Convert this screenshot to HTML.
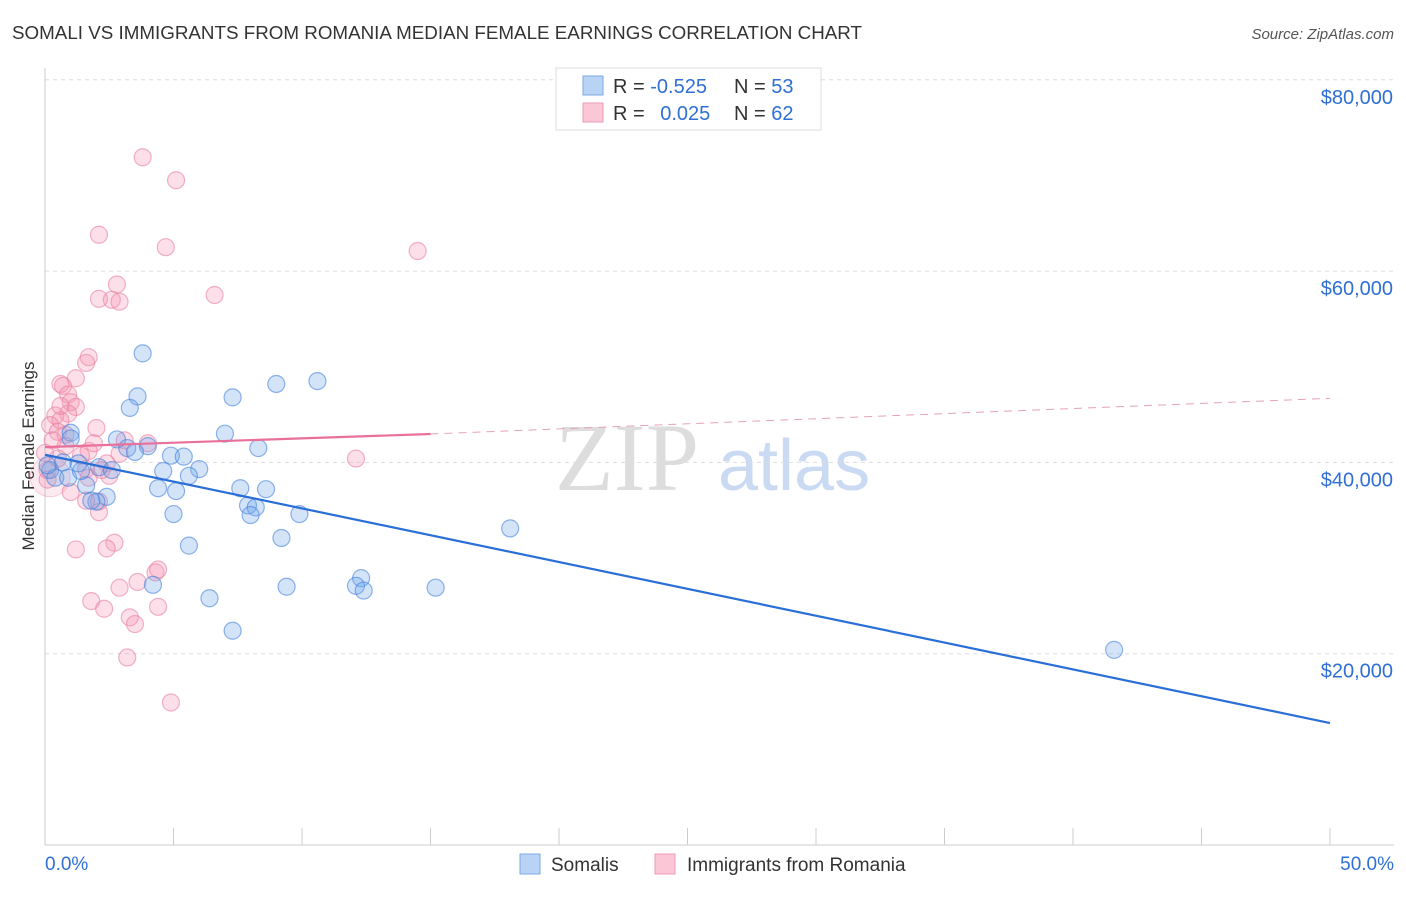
<!DOCTYPE html>
<html><head><meta charset="utf-8"><style>
body{margin:0;background:#fff;font-family:"Liberation Sans",sans-serif;}
</style></head><body>
<svg id="chart" width="1406" height="892" xmlns="http://www.w3.org/2000/svg" style="font-family:'Liberation Sans',sans-serif">
<text x="12" y="39" font-size="18" fill="#333" textLength="850" lengthAdjust="spacingAndGlyphs">SOMALI VS IMMIGRANTS FROM ROMANIA MEDIAN FEMALE EARNINGS CORRELATION CHART</text>
<text x="1394" y="39" font-size="15" fill="#555" text-anchor="end" font-style="italic">Source: ZipAtlas.com</text>
<text x="555" y="490" font-size="96" fill="#ddd" font-family="Liberation Serif">ZIP</text>
<text x="718" y="490" font-size="72" fill="#c9daf2">atlas</text>
<g id="grid"></g>
<g id="axes"></g>
<g id="marks"></g>
<text transform="translate(34,456) rotate(-90)" font-size="17" fill="#333" text-anchor="middle">Median Female Earnings</text>
<g>
<rect x="556" y="68" width="265" height="62" fill="#fff" stroke="#ddd"/>
<rect x="583" y="76" width="20" height="19" fill="#b9d3f5" stroke="#7aa8e6"/>
<rect x="583" y="103" width="20" height="19" fill="#fbc6d6" stroke="#ee9ab4"/>
<text x="613" y="93" font-size="20" fill="#333">R = <tspan fill="#2f6fd6">-0.525</tspan></text>
<text x="734" y="93" font-size="20" fill="#333">N = <tspan fill="#2f6fd6">53</tspan></text>
<text x="613" y="120" font-size="20" fill="#333">R = <tspan fill="#2f6fd6" dx="10">0.025</tspan></text>
<text x="734" y="120" font-size="20" fill="#333">N = <tspan fill="#2f6fd6">62</tspan></text>
</g>
<g>
<rect x="520" y="854" width="20" height="20" fill="#b9d3f5" stroke="#7aa8e6"/>
<text x="551" y="871" font-size="19" fill="#333">Somalis</text>
<rect x="655" y="854" width="20" height="20" fill="#fbc6d6" stroke="#ee9ab4"/>
<text x="687" y="871" font-size="19" fill="#333">Immigrants from Romania</text>
</g>
</svg>
<script>
const yTicks=[20000,40000,60000,80000];
const yTickLabels=["$20,000","$40,000","$60,000","$80,000"];
const xTickLabels=["0.0%","50.0%"];
const somaliX=[3.8,3.6,3.3,7.3,9.0,10.6,7.0,2.8,4.0,3.2,3.5,4.9,5.4,8.3,1.0,6.0,4.6,5.6,4.4,5.1,7.6,8.6,2.4,2.0,7.9,8.2,8.0,5.0,9.9,5.6,9.2,4.2,6.4,9.4,12.3,12.1,12.4,15.2,7.3,18.1,41.6,0.2,0.4,0.9,1.6,1.4,2.1,1.3,1.8,0.7,2.6,1.0,0.1];
const somaliY=[51.4,46.9,45.7,46.8,48.2,48.5,43.0,42.4,41.7,41.5,41.1,40.7,40.6,41.5,43.1,39.3,39.1,38.6,37.3,37.0,37.3,37.2,36.4,35.9,35.5,35.3,34.5,34.6,34.6,31.3,32.1,27.2,25.8,27.0,27.9,27.1,26.6,26.9,22.4,33.1,20.4,39.2,38.4,38.4,37.6,39.1,39.5,39.9,36.0,40.0,39.2,42.5,39.7];
const romaniaX=[3.8,5.1,2.1,4.7,14.5,6.6,2.8,2.1,2.6,2.9,1.7,1.6,0.6,0.7,0.9,1.0,1.2,0.9,0.4,0.6,0.2,0.5,0.8,2.0,4.0,3.1,1.7,2.4,1.6,0.5,1.6,2.1,1.0,2.1,2.5,1.4,12.1,2.7,2.4,1.2,3.6,4.3,4.4,2.9,1.8,2.3,4.4,3.3,3.5,3.2,4.9,0.1,0.1,0.3,1.2,0.6,2.2,1.9,0.8,2.9,1.7,0.0];
const romaniaY=[71.9,69.5,63.8,62.5,62.1,57.5,58.6,57.1,57.0,56.8,51.0,50.4,48.2,48.0,47.1,46.3,45.8,45.1,44.9,44.4,43.9,43.2,42.9,43.6,42.0,42.3,41.2,39.9,39.3,40.4,36.0,35.9,36.9,34.8,38.6,40.7,40.4,31.6,31.0,30.9,27.5,28.5,28.8,26.9,25.5,24.7,24.9,23.8,23.1,19.6,14.9,38.2,39.2,42.3,48.8,45.9,39.2,42.0,41.7,40.9,38.4,41.0];
const somaliTrend=[[0,40.8],[50,12.75]];
const romaniaTrendSolid=[[0,41.6],[15,42.97]];
const romaniaTrendDash=[[15,42.97],[50,46.7]];
const NS="http://www.w3.org/2000/svg";
const xs=p=>45+p/50*1285;
const ys=v=>845-v/20000*191.3;
function mk(parent,tag,attrs){const e=document.createElementNS(NS,tag);for(const k in attrs)e.setAttribute(k,attrs[k]);parent.appendChild(e);return e;}
const grid=document.getElementById('grid'),axes=document.getElementById('axes'),marks=document.getElementById('marks');
yTicks.forEach((t,i)=>{
 const l=mk(grid,'line',{x1:45,x2:1394,y1:ys(t),y2:ys(t),stroke:'#ddd','stroke-dasharray':'4,4'});
 
 
 const tx=mk(axes,'text',{x:1393,y:ys(t)+24,'font-size':20,fill:'#2f6fd6','text-anchor':'end'});
 tx.textContent=yTickLabels[i];
 
 
});
const ya=mk(axes,'line',{x1:45,x2:45,y1:68,y2:845,stroke:'#ccc'});


const xa=mk(axes,'line',{x1:45,x2:1394,y1:845,y2:845,stroke:'#ccc'});


for(let i=0;i<=10;i++){
 const t=mk(axes,'line',{x1:xs(i*5),x2:xs(i*5),y1:828,y2:845,stroke:'#ccc'});
 
 
}
[[0,'start',45],[50,'end',1394]].forEach((d,i)=>{
 const tx=mk(axes,'text',{x:d[2],y:870,'font-size':19,fill:'#2f6fd6','text-anchor':d[1]});
 tx.textContent=xTickLabels[i];
 
 
});
const big=mk(marks,'circle',{cx:xs(0.2),cy:ys(38500),r:20,fill:'rgba(240,140,170,0.18)',stroke:'rgba(232,130,160,0.35)'});


romaniaX.forEach((x,i)=>{
 const c=mk(marks,'circle',{cx:xs(x),cy:ys(romaniaY[i]*1000),r:8.5,fill:'rgba(244,150,180,0.3)',stroke:'rgba(232,130,160,0.6)','stroke-width':1.2});
 
 
});
somaliX.forEach((x,i)=>{
 const c=mk(marks,'circle',{cx:xs(x),cy:ys(somaliY[i]*1000),r:8.5,fill:'rgba(110,165,235,0.3)',stroke:'rgba(70,130,220,0.6)','stroke-width':1.2});
 
 
});
const bl=mk(marks,'line',{x1:xs(somaliTrend[0][0]),y1:ys(somaliTrend[0][1]*1000),x2:xs(somaliTrend[1][0]),y2:ys(somaliTrend[1][1]*1000),stroke:'#2a6fd8','stroke-width':2.2});


const pl=mk(marks,'line',{x1:xs(romaniaTrendSolid[0][0]),y1:ys(romaniaTrendSolid[0][1]*1000),x2:xs(romaniaTrendSolid[1][0]),y2:ys(romaniaTrendSolid[1][1]*1000),stroke:'#e8709a','stroke-width':2.2});


const pd=mk(marks,'line',{x1:xs(romaniaTrendDash[0][0]),y1:ys(romaniaTrendDash[0][1]*1000),x2:xs(romaniaTrendDash[1][0]),y2:ys(romaniaTrendDash[1][1]*1000),stroke:'#e8a0b8','stroke-width':1,'stroke-dasharray':'8,6'});


</script>
</body></html>
